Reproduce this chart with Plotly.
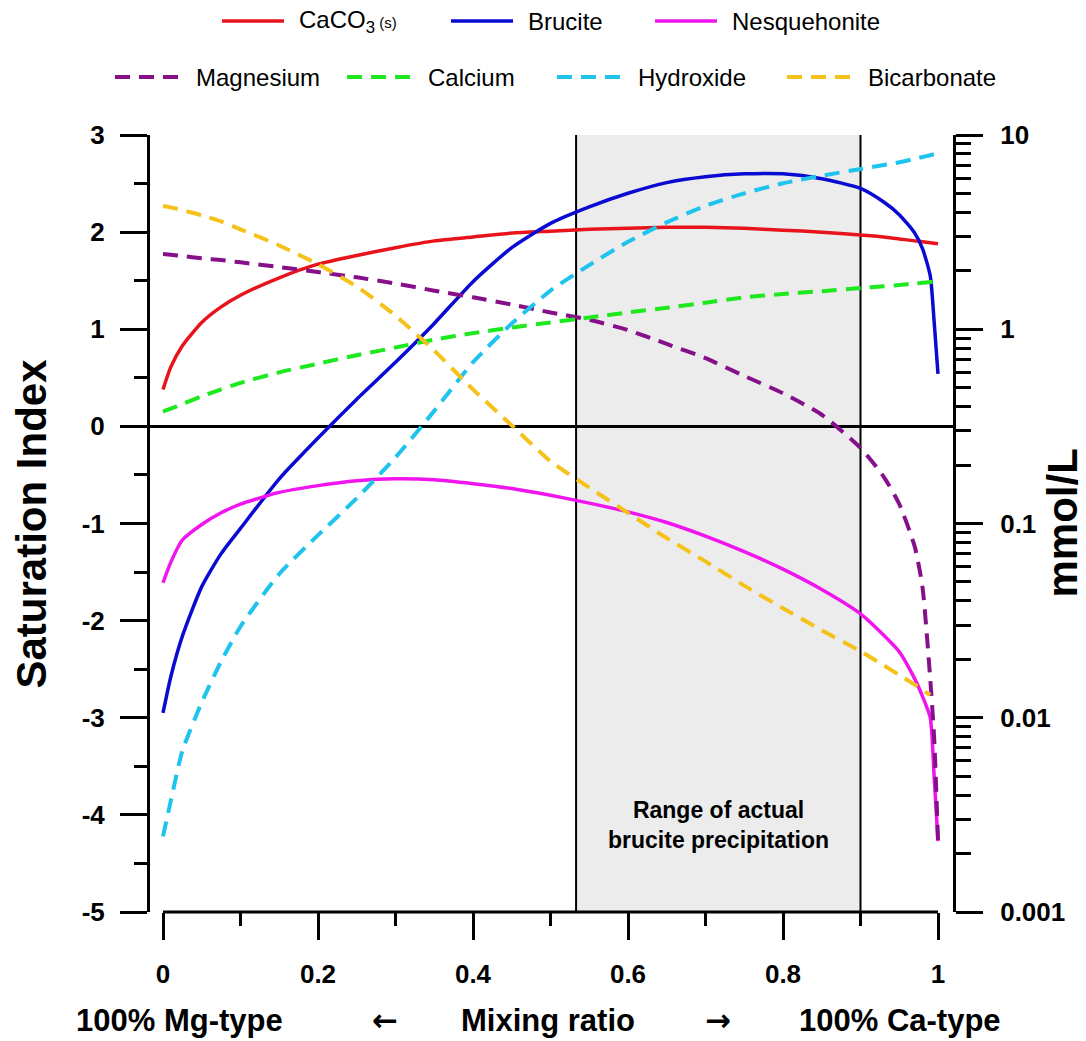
import plotly.graph_objects as go

# ---- data -------------------------------------------------------------
mix_ratio = [0, 0.01, 0.025, 0.05, 0.075, 0.1, 0.15, 0.2, 0.25, 0.3, 0.35, 0.4,
             0.45, 0.5, 0.55, 0.6, 0.65, 0.7, 0.75, 0.8, 0.85, 0.9, 0.93, 0.95,
             0.97, 0.98, 0.99, 0.995, 1.0]

# saturation indices (left axis)
si_caco3 = [0.38, 0.61, 0.83, 1.07, 1.23, 1.35, 1.53, 1.67, 1.76, 1.84, 1.91, 1.95,
            1.99, 2.01, 2.03, 2.04, 2.05, 2.05, 2.04, 2.02, 2.00, 1.97, 1.95, 1.93,
            1.91, 1.90, 1.89, 1.885, 1.88]
si_brucite = [-2.95, -2.58, -2.16, -1.65, -1.31, -1.05, -0.54, -0.12, 0.28, 0.66, 1.06, 1.49,
              1.84, 2.09, 2.26, 2.40, 2.51, 2.57, 2.60, 2.60, 2.55, 2.45, 2.31, 2.18,
              1.99, 1.83, 1.55, 1.08, 0.54]
si_nesquehonite = [-1.61, -1.40, -1.17, -1.01, -0.89, -0.80, -0.68, -0.61, -0.56, -0.54, -0.55, -0.59,
                   -0.64, -0.71, -0.79, -0.88, -0.99, -1.13, -1.29, -1.47, -1.68, -1.93, -2.15, -2.32,
                   -2.60, -2.78, -3.00, -3.60, -4.27]

# concentrations in mmol/L (right axis, log scale)
c_magnesium = [2.44, 2.42, 2.38, 2.32, 2.27, 2.21, 2.09, 1.97, 1.85, 1.72, 1.58, 1.46,
               1.34, 1.22, 1.12, 0.99, 0.84, 0.71, 0.575, 0.468, 0.363, 0.245, 0.174, 0.126,
               0.076, 0.047, 0.0158, 0.0079, 0.00234]
c_calcium = [0.377, 0.390, 0.412, 0.452, 0.490, 0.530, 0.600, 0.665, 0.735, 0.805, 0.885, 0.955,
             1.02, 1.084, 1.15, 1.22, 1.29, 1.37, 1.46, 1.52, 1.57, 1.63, 1.665, 1.69,
             1.72, 1.735, 1.75, 1.755, 1.76]
c_hydroxide = [0.00245, 0.00372, 0.00676, 0.0120, 0.0195, 0.0295, 0.0550, 0.0871, 0.135, 0.219, 0.380, 0.676,
               1.07, 1.58, 2.14, 2.82, 3.55, 4.32, 5.01, 5.64, 6.17, 6.68, 7.00, 7.24,
               7.55, 7.71, 7.87, 7.96, 8.05]
c_bicarbonate = [4.31, 4.24, 4.10, 3.86, 3.59, 3.27, 2.70, 2.16, 1.66, 1.175, 0.776, 0.490,
                 0.320, 0.209, 0.153, 0.1135, 0.0841, 0.0638, 0.0479, 0.0366, 0.0282, 0.0220, 0.0186, 0.0166,
                 0.0148, 0.0139, 0.0131, None, None]

precip_range = [0.533, 0.9]

x_ticks = [0, 0.2, 0.4, 0.6, 0.8, 1]
x_tick_text = ["0", "0.2", "0.4", "0.6", "0.8", "1"]
si_ticks = [-5, -4, -3, -2, -1, 0, 1, 2, 3]
si_tick_text = ["-5", "-4", "-3", "-2", "-1", "0", "1", "2", "3"]
conc_ticks = [0.001, 0.01, 0.1, 1, 10]
conc_tick_text = ["0.001", "0.01", "0.1", "1", "10"]

# ---- styling ----------------------------------------------------------
FONT = "Liberation Sans, Arial, sans-serif"
SOLID_W = 3.5
DASH_W = 4
DASH = "15px,9px"

series = [
    # name, values, colour, axis, dashed, legend row, legend line x-start (px)
    ("CaCO<sub>3</sub><span style='font-size:15px'> (s)</span>", si_caco3, "#e8141b", "y", False, 0, 222),
    ("Brucite", si_brucite, "#0a0ad2", "y", False, 0, 451),
    ("Nesquehonite", si_nesquehonite, "#f014ee", "y", False, 0, 655),
    ("Magnesium", c_magnesium, "#86108a", "y2", True, 1, 115),
    ("Calcium", c_calcium, "#1ee81e", "y2", True, 1, 347),
    ("Hydroxide", c_hydroxide, "#1ec3ee", "y2", True, 1, 557),
    ("Bicarbonate", c_bicarbonate, "#f5c21c", "y2", True, 1, 787),
]

# plot area in pixels
L, R, T, B = 150, 953, 135, 912
W, H = 1086, 1041
X0_PX, X_SPAN_PX = 163, 775   # pixel position of mixing ratio 0 and width of 0..1


def px_x(px):
    return (px - L) / (R - L)


def px_y(py):
    return (B - py) / (B - T)


fig = go.Figure()

# shaded range of brucite precipitation
fig.add_shape(type="rect", xref="x", yref="y", x0=precip_range[0], x1=precip_range[1],
              y0=-5, y1=3, fillcolor="#ececec", line=dict(width=0), layer="below")
for xv in precip_range:
    fig.add_shape(type="line", xref="x", yref="y", x0=xv, x1=xv, y0=-5, y1=3,
                  line=dict(color="black", width=2), layer="below")

# dashed concentration curves first, solid SI curves on top
for name, vals, col, ax, dashed, row, lx in sorted(series, key=lambda s: not s[4]):
    fig.add_trace(go.Scatter(
        x=mix_ratio, y=vals, yaxis=ax, mode="lines", name=name,
        line=dict(color=col, width=DASH_W if dashed else SOLID_W,
                  dash=DASH if dashed else "solid", shape="spline", smoothing=0.6),
        connectgaps=False, showlegend=False, hoverinfo="skip"))

# legend (two rows above the plot)
LEG_ROW_Y = [21, 77]
for name, vals, col, ax, dashed, row, lx in series:
    ly = px_y(LEG_ROW_Y[row])
    seg = 62 if not dashed else 66
    fig.add_shape(type="line", xref="paper", yref="paper",
                  x0=px_x(lx), x1=px_x(lx + seg), y0=ly, y1=ly,
                  line=dict(color=col, width=DASH_W if dashed else SOLID_W,
                            dash=DASH if dashed else "solid"))
    fig.add_annotation(xref="paper", yref="paper", x=px_x(lx + seg + 13), y=ly,
                       xanchor="left", yanchor="middle", text=name, showarrow=False,
                       font=dict(family=FONT, size=24, color="black"))

# horizontal x-axis line only between 0 and 1
fig.add_shape(type="line", xref="x", yref="paper", x0=0, x1=1, y0=0, y1=0,
              line=dict(color="black", width=3))

# text inside shaded range
fig.add_annotation(x=sum(precip_range) / 2, y=-4.1, xref="x", yref="y",
                   text="Range of actual<br>brucite precipitation", showarrow=False,
                   font=dict(family=FONT, size=23, color="black", weight="bold"))

# axis titles
fig.add_annotation(xref="paper", yref="paper", x=px_x(31), y=0.5, textangle=-90,
                   text="Saturation Index", showarrow=False, xanchor="center", yanchor="middle",
                   font=dict(family=FONT, size=42, color="black", weight="bold"))
fig.add_annotation(xref="paper", yref="paper", x=px_x(1062), y=0.5, textangle=-90,
                   text="mmol/L", showarrow=False, xanchor="center", yanchor="middle",
                   font=dict(family=FONT, size=42, color="black", weight="bold"))

bottom_labels = [("100% Mg-type", 179, FONT), ("\u2190", 385, "DejaVu Sans"),
                 ("Mixing ratio", 548, FONT), ("\u2192", 718, "DejaVu Sans"),
                 ("100% Ca-type", 900, FONT)]
for txt, cx, fam in bottom_labels:
    fig.add_annotation(xref="paper", yref="paper", x=px_x(cx), y=px_y(1020),
                       text=txt, showarrow=False, xanchor="center", yanchor="middle",
                       font=dict(family=fam, size=31, color="black", weight="bold"))

tickfont = dict(family=FONT, size=26, color="black", weight="bold")

fig.update_layout(
    width=W, height=H,
    margin=dict(l=L, r=W - R, t=T, b=H - B, pad=0),
    plot_bgcolor="white", paper_bgcolor="white",
    showlegend=False,
    font=dict(family=FONT, color="black"),
    xaxis=dict(
        range=[(L - X0_PX) / X_SPAN_PX, (R - X0_PX) / X_SPAN_PX],
        tickmode="array", tickvals=x_ticks, ticktext=x_tick_text,
        ticks="outside", ticklen=27, tickwidth=3, tickcolor="black",
        showline=False, showgrid=False, zeroline=False,
        tickfont=tickfont, ticklabelstandoff=12,
        minor=dict(tickmode="array", tickvals=[0.1, 0.3, 0.5, 0.7, 0.9],
                   ticks="outside", ticklen=13, tickwidth=3, tickcolor="black", showgrid=False),
    ),
    yaxis=dict(
        range=[-5, 3], tickmode="array", tickvals=si_ticks, ticktext=si_tick_text,
        ticks="outside", ticklen=27, tickwidth=3, tickcolor="black",
        showline=True, linewidth=3, linecolor="black",
        showgrid=False, zeroline=True, zerolinewidth=3, zerolinecolor="black",
        tickfont=tickfont, ticklabelstandoff=10,
        minor=dict(tickmode="array", tickvals=[-4.5, -3.5, -2.5, -1.5, -0.5, 0.5, 1.5, 2.5],
                   ticks="outside", ticklen=13, tickwidth=3, tickcolor="black", showgrid=False),
    ),
    yaxis2=dict(
        type="log", range=[-3, 1], overlaying="y", side="right",
        tickmode="array", tickvals=conc_ticks, ticktext=conc_tick_text,
        ticks="outside", ticklen=27, tickwidth=3, tickcolor="black",
        showline=True, linewidth=3, linecolor="black",
        showgrid=False, zeroline=False,
        tickfont=tickfont, ticklabelstandoff=12,
        minor=dict(tickmode="array",
                   tickvals=[k * 10.0 ** e for e in range(-3, 1) for k in range(2, 10)],
                   ticks="outside", ticklen=15, tickwidth=3, tickcolor="black", showgrid=False),
    ),
)

fig.write_html("out.html")
